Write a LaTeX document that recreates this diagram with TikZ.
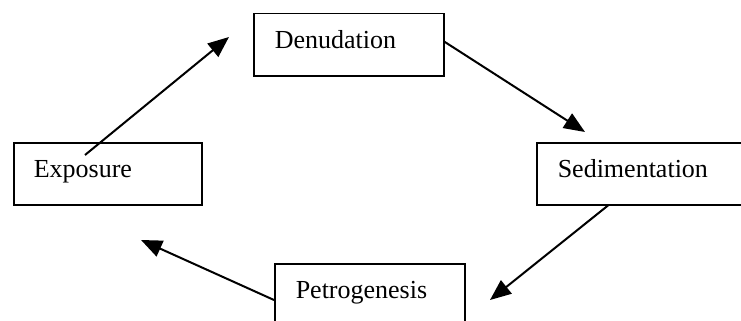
\documentclass[tikz,border=0pt]{standalone}
\usepackage{fontspec}
\setmainfont{Liberation Serif}
\usetikzlibrary{arrows.meta}
\begin{document}
\begin{tikzpicture}[x=1pt,y=-1pt,
  stagebox/.style={draw, line width=1.5pt, rectangle, anchor=north west,
    font=\fontsize{26}{30}\selectfont, align=left,
    inner xsep=21pt, inner ysep=17pt, text height=18pt, text depth=10pt,
    text width=148pt},
  cyclearrow/.style={line width=2pt, -{Triangle[length=21pt,width=17pt]}}]
  \useasboundingbox (0,0) rectangle (741,321);
  \clip (0,0) rectangle (741,321);

  % the four stages of the cycle
  \node[stagebox] (den) at (253,13) {Denudation};
  \node[stagebox, text width=172pt] (sed) at (536,142) {Sedimentation};
  \node[stagebox] (pet) at (274,263) {Petrogenesis};
  \node[stagebox, inner xsep=20pt] (exp) at (13,142) {Exposure};

  % arrow tips
  \coordinate (tipden) at (229,37);
  \coordinate (tipsed) at (585,132);
  \coordinate (tippet) at (490,300);
  \coordinate (tipexp) at (141,240);

  % connectors round the cycle
  \draw[cyclearrow] ([xshift=72pt,yshift=-13pt]exp.north west) -- (tipden);
  \draw[cyclearrow] ([yshift=3pt]den.east) -- (tipsed);
  \draw[cyclearrow] ([xshift=72pt]sed.south west) -- (tippet);
  \draw[cyclearrow] ([yshift=-37pt]pet.north west) -- (tipexp);
\end{tikzpicture}
\end{document}
